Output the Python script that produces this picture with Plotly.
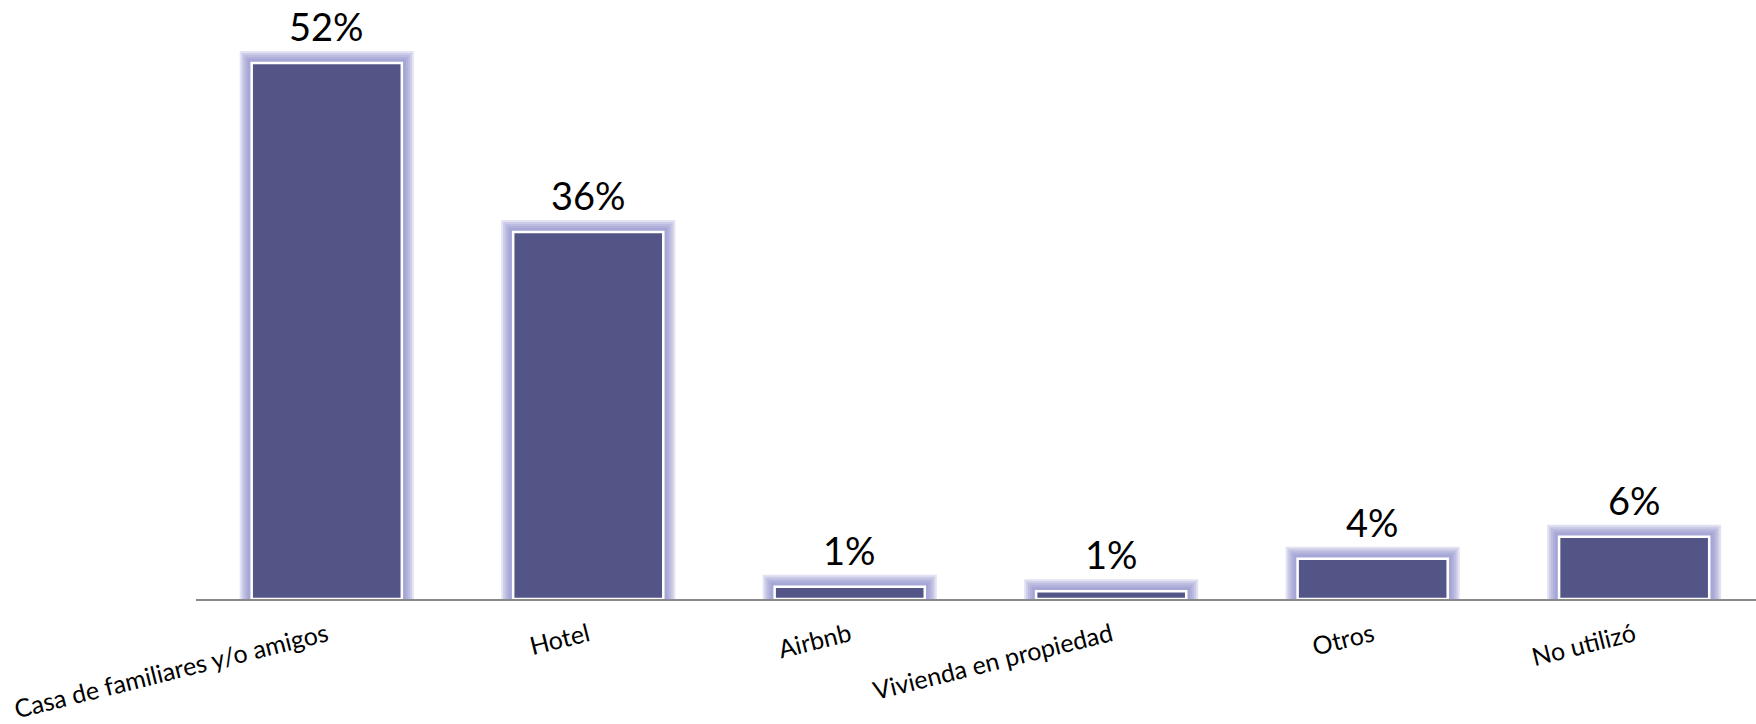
import plotly.graph_objects as go

categories = ["Casa de familiares y/o amigos", "Hotel", "Airbnb",
              "Vivienda en propiedad", "Otros", "No utilizó"]
values = [52.0, 35.6, 1.2, 0.75, 3.9, 6.05]
value_labels = ["52%", "36%", "1%", "1%", "4%", "6%"]

BAR_COLOR = "#535586"
BAR_WIDTH = 0.574

fig = go.Figure()

# soft lavender glow layers behind the bars
for lw in [24, 20, 16, 12, 8]:
    fig.add_trace(go.Bar(x=categories, y=values, width=BAR_WIDTH,
                         marker=dict(color=BAR_COLOR,
                                     line=dict(color="rgba(140,140,205,0.25)", width=lw)),
                         hoverinfo="skip", showlegend=False))

fig.add_trace(go.Bar(x=categories, y=values, width=BAR_WIDTH,
                     marker=dict(color=BAR_COLOR, line=dict(color="white", width=2.5)),
                     showlegend=False))

for c, v, t in zip(categories, values, value_labels):
    fig.add_annotation(x=c, y=v, text=t, showarrow=False, yanchor="bottom",
                       yshift=12, font=dict(family="Lato", size=38, color="black"))

fig.update_layout(
    width=1756, height=724,
    margin=dict(l=196, r=0, t=0, b=125),
    barmode="overlay",
    plot_bgcolor="white", paper_bgcolor="white",
    xaxis=dict(range=[-0.5, 5.466], showline=True, linecolor="#898989", linewidth=2,
               showgrid=False, zeroline=False, ticks="", tickangle=-14,
               tickfont=dict(family="Lato", size=25, color="black"),
               ticklabelstandoff=10),
    yaxis=dict(range=[0, 58.1], visible=False, showgrid=False, zeroline=False),
)

fig.write_html("out.html",
               config={"displayModeBar": False},
               post_script="document.body.style.margin='0px';document.body.style.overflow='hidden';")
